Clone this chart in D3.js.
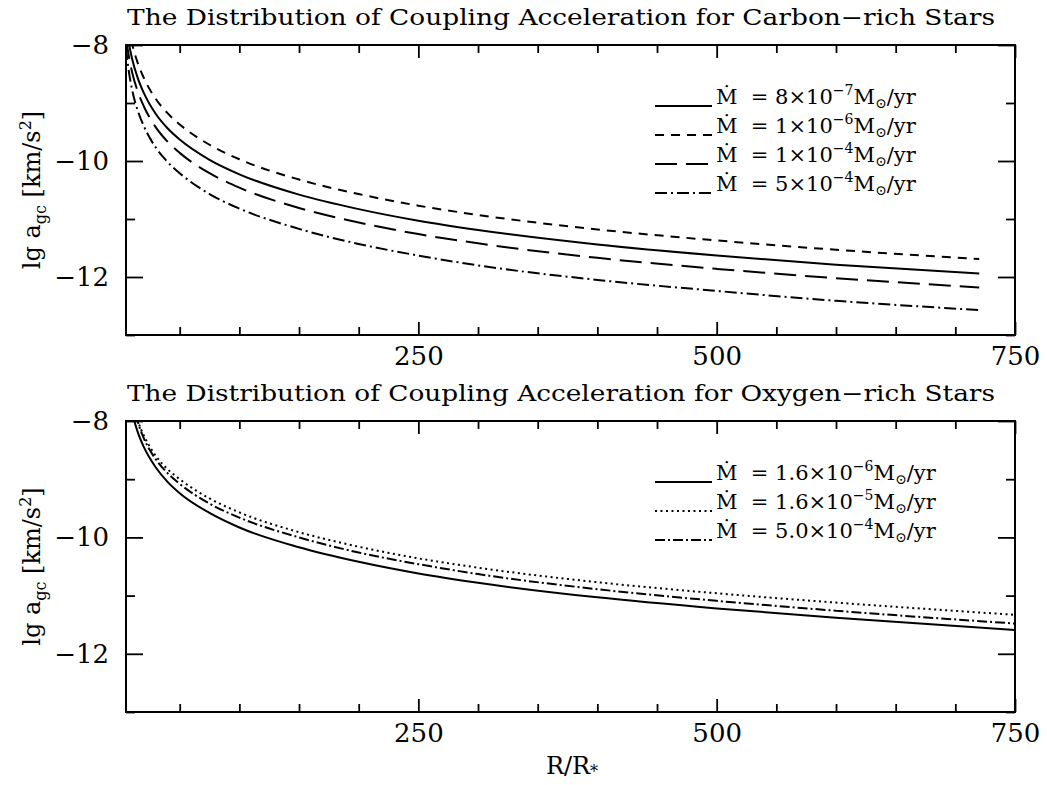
<!DOCTYPE html>
<html><head><meta charset="utf-8">
<script src="https://cdn.jsdelivr.net/npm/d3@7"></script>
<style>
body{margin:0;background:#fff}
svg text{font-family:"DejaVu Serif",serif;fill:#000}
</style>
</head><body>
<svg id="c" width="1047" height="785"></svg>
<script>
// ---------------- data ----------------
const rCarbon    = [5,7,10,15,20,30,40,50,75,100,150,200,250,300,400,500,600,720];
const carbon8e7  = [-7.63,-7.92,-8.23,-8.58,-8.83,-9.19,-9.44,-9.63,-9.98,-10.23,-10.58,-10.83,-11.03,-11.19,-11.44,-11.63,-11.79,-11.94];
const carbon1e6  = [-7.37,-7.66,-7.97,-8.32,-8.57,-8.93,-9.18,-9.37,-9.72,-9.97,-10.32,-10.57,-10.77,-10.93,-11.18,-11.37,-11.53,-11.69];
const carbon1e4  = [-7.86,-8.15,-8.46,-8.81,-9.06,-9.42,-9.67,-9.86,-10.21,-10.46,-10.81,-11.06,-11.26,-11.42,-11.67,-11.86,-12.02,-12.18];
const carbon5e4  = [-8.05,-8.4,-8.76,-9.14,-9.40,-9.77,-10.02,-10.21,-10.57,-10.82,-11.17,-11.43,-11.63,-11.80,-12.05,-12.24,-12.41,-12.57];

const rOxygen    = [10,12,15,20,30,40,50,75,100,150,200,250,300,400,500,600,750];
const oxygen16e6 = [-7.81,-8.0,-8.2,-8.45,-8.8,-9.05,-9.24,-9.58,-9.83,-10.17,-10.42,-10.62,-10.78,-11.03,-11.22,-11.38,-11.59];
const oxygen16e5 = [-7.6,-7.78,-8.0,-8.25,-8.6,-8.83,-9.0,-9.33,-9.57,-9.91,-10.16,-10.36,-10.52,-10.77,-10.96,-11.12,-11.33];
const oxygen50e4 = [-7.58,-7.78,-8.02,-8.3,-8.66,-8.9,-9.08,-9.42,-9.66,-10.0,-10.26,-10.46,-10.63,-10.89,-11.09,-11.26,-11.48];

const carbonCoef = ["8","1","1","5"];
const carbonExp  = ["−7","−6","−4","−4"];
const oxygenCoef = ["1.6","1.6","5.0"];
const oxygenExp  = ["−6","−5","−4"];

const xMajor = [250,500,750];
const xMinor = [50,100,150,200,300,350,400,450,550,600,650,700];
const yMajor = [-8,-10,-12];
const yMinor = [-9,-11,-13];

const titleCarbon = "The Distribution of Coupling Acceleration for Carbon−rich Stars";
const titleOxygen = "The Distribution of Coupling Acceleration for Oxygen−rich Stars";

// ---------------- drawing ----------------
const svg = d3.select("#c");
const left = 126, right = 1015;
const x = d3.scaleLinear().domain([5,750]).range([left,right]);
const NB = "\u00A0";

function panel(cfg){
  const top = cfg.top, bottom = cfg.bottom;
  const y = d3.scaleLinear().domain([-13,-8]).range([bottom,top]);
  const g = svg.append("g");
  const id = "clip"+cfg.key;
  svg.append("clipPath").attr("id",id).append("rect")
     .attr("x",left).attr("y",top).attr("width",right-left).attr("height",bottom-top);

  // title
  g.append("text").attr("x",left+1).attr("y",top-20)
    .attr("font-size",22).attr("textLength",cfg.titleLen).attr("lengthAdjust","spacingAndGlyphs")
    .text(cfg.title);

  // ticks (inward) using d3 axes
  const axB = g.append("g").attr("transform",`translate(0,${bottom})`);
  axB.call(d3.axisBottom(x).tickValues(xMajor).tickSize(-13).tickFormat(""));
  axB.append("g").call(d3.axisBottom(x).tickValues(xMinor).tickSize(-8).tickFormat(""));
  const axT = g.append("g").attr("transform",`translate(0,${top})`);
  axT.call(d3.axisTop(x).tickValues(xMajor).tickSize(-13).tickFormat(""));
  axT.append("g").call(d3.axisTop(x).tickValues(xMinor).tickSize(-8).tickFormat(""));
  const axL = g.append("g").attr("transform",`translate(${left},0)`);
  axL.call(d3.axisLeft(y).tickValues(yMajor).tickSize(-17).tickFormat(""));
  axL.append("g").call(d3.axisLeft(y).tickValues(yMinor).tickSize(-9).tickFormat(""));
  const axR = g.append("g").attr("transform",`translate(${right},0)`);
  axR.call(d3.axisRight(y).tickValues(yMajor).tickSize(-17).tickFormat(""));
  axR.append("g").call(d3.axisRight(y).tickValues(yMinor).tickSize(-9).tickFormat(""));
  g.selectAll(".domain").remove();
  g.selectAll(".tick line").attr("stroke","#000").attr("stroke-width",1.8);

  // tick labels
  const lx = g.append("g").attr("transform",`translate(0,${bottom})`)
    .call(d3.axisBottom(x).tickValues(xMajor).tickSize(0).tickPadding(12).tickFormat(d3.format("d")));
  lx.select(".domain").remove();
  lx.selectAll("text").attr("font-size",26).attr("font-family","DejaVu Serif");
  const ly = g.append("g").attr("transform",`translate(${left},0)`)
    .call(d3.axisLeft(y).tickValues(yMajor).tickSize(0).tickPadding(17).tickFormat(d=>"−"+Math.abs(d)));
  ly.select(".domain").remove();
  ly.selectAll("text").attr("font-size",26).attr("font-family","DejaVu Serif");
  g.selectAll(".tick text").attr("fill","#000");

  // frame
  g.append("rect").attr("x",left).attr("y",top).attr("width",right-left).attr("height",bottom-top)
    .attr("fill","none").attr("stroke","#000").attr("stroke-width",2);

  // y-axis title
  const yc = (top+bottom)/2;
  const yt = g.append("text").attr("transform",`translate(40,${yc}) rotate(-90)`)
    .attr("text-anchor","middle").attr("font-size",24);
  yt.append("tspan").text("lg"+NB+"a");
  yt.append("tspan").attr("font-size",16).attr("dy",6).text("gc");
  yt.append("tspan").attr("dy",-6).text(NB+"[km/s");
  yt.append("tspan").attr("font-size",16).attr("dy",-9).text("2");
  yt.append("tspan").attr("dy",9).text("]");

  // curves
  const line = d3.line().x(d=>x(d[0])).y(d=>y(d[1])).curve(d3.curveMonotoneX);
  const cg = g.append("g").attr("clip-path",`url(#${id})`);
  cfg.series.forEach(s=>{
    cg.append("path").datum(cfg.r.map((r,i)=>[r,s.v[i]]))
      .attr("d",line).attr("fill","none").attr("stroke","#000").attr("stroke-width",2)
      .attr("stroke-dasharray",s.dash);
  });

  // legend
  cfg.series.forEach((s,i)=>{
    const ly0 = cfg.legTop + i*29;
    g.append("line").attr("x1",655).attr("x2",712).attr("y1",ly0).attr("y2",ly0)
      .attr("stroke","#000").attr("stroke-width",2).attr("stroke-dasharray",s.dash);
    const t = g.append("text").attr("x",716).attr("y",ly0-2).attr("font-size",21);
    t.append("tspan").text("Ṁ"+NB+NB+"="+NB+s.coef+"×10");
    t.append("tspan").attr("font-size",14).attr("dy",-9).text(s.exp);
    t.append("tspan").attr("dy",9).text("M");
    t.append("tspan").attr("font-size",14).attr("dy",4).text("⊙");
    t.append("tspan").attr("dy",-4).text("/yr");
  });
}

panel({key:"C", top:45, bottom:335, title:titleCarbon, titleLen:868, legTop:106, r:rCarbon,
  series:[
    {v:carbon8e7, dash:null,        coef:carbonCoef[0], exp:carbonExp[0]},
    {v:carbon1e6, dash:"9,7",       coef:carbonCoef[1], exp:carbonExp[1]},
    {v:carbon1e4, dash:"22,9",      coef:carbonCoef[2], exp:carbonExp[2]},
    {v:carbon5e4, dash:"12,4,2,4",  coef:carbonCoef[3], exp:carbonExp[3]}
  ]});
panel({key:"O", top:421, bottom:712, title:titleOxygen, titleLen:868, legTop:482, r:rOxygen,
  series:[
    {v:oxygen16e6, dash:null,       coef:oxygenCoef[0], exp:oxygenExp[0]},
    {v:oxygen16e5, dash:"2,3.5",    coef:oxygenCoef[1], exp:oxygenExp[1]},
    {v:oxygen50e4, dash:"10,3,2,3", coef:oxygenCoef[2], exp:oxygenExp[2]}
  ]});

// x-axis title
const xt = svg.append("text").attr("x",572).attr("y",774).attr("text-anchor","middle").attr("font-size",24);
xt.append("tspan").text("R/R");
xt.append("tspan").attr("font-size",16).attr("dy",3).text("*");
</script>
</body></html>
